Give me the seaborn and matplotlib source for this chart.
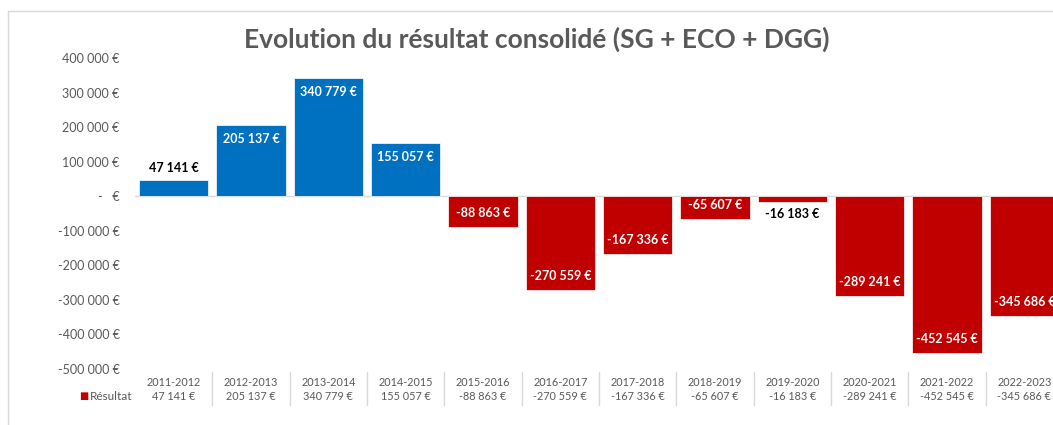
import matplotlib
matplotlib.use("Agg")
import matplotlib.pyplot as plt
import matplotlib.lines as mlines
import seaborn as sns
import pandas as pd

# --- données ---
periodes = ['2011-2012', '2012-2013', '2013-2014', '2014-2015', '2015-2016', '2016-2017',
            '2017-2018', '2018-2019', '2019-2020', '2020-2021', '2021-2022', '2022-2023']
resultats = [47141, 205137, 340779, 155057, -88863, -270559,
             -167336, -65607, -16183, -289241, -452545, -345686]
yticks_val = [400000, 300000, 200000, 100000, 0, -100000, -200000, -300000, -400000, -500000]

BLEU = '#0070C0'
ROUGE = '#C00000'
GRIS = '#595959'


def fmt_euro(v):
    if v == 0:
        return '-   €'
    s = f"{abs(int(v)):,}".replace(',', ' ')
    return ('-' if v < 0 else '') + s + ' €'


df = pd.DataFrame({'periode': periodes, 'resultat': resultats})
df['signe'] = ['pos' if v > 0 else 'neg' for v in resultats]

sns.set_theme(style="white")
plt.rcParams['font.family'] = ['Lato', 'DejaVu Sans']

W, H = 1053, 425
fig = plt.figure(figsize=(W / 100, H / 100), dpi=100)
# zone de tracé (déborde volontairement à droite comme l'original)
ax_left, ax_right, ax_top, ax_bot = 135, 1063, 58, 369
ax = fig.add_axes([ax_left / W, 1 - ax_bot / H, (ax_right - ax_left) / W, (ax_bot - ax_top) / H])

sns.barplot(data=df, x='periode', y='resultat', hue='signe',
            palette={'pos': BLEU, 'neg': ROUGE}, saturation=1, dodge=False, legend=False,
            width=0.9, edgecolor='white', linewidth=0.5, ax=ax)

ax.set_xlim(-0.5, len(periodes) - 0.5)
ax.set_ylim(-500000, 400000)
ax.axhline(0, color='#D9D9D9', lw=1, zorder=0)

ax.set_yticks(yticks_val)
ax.set_yticklabels([fmt_euro(v) for v in yticks_val], color=GRIS, fontsize=9)
ax.tick_params(axis='y', length=0, pad=11)
ax.set_xticks([])
ax.set_xlabel('')
ax.set_ylabel('')
for sp in ax.spines.values():
    sp.set_visible(False)

# étiquettes de données
px_per_unit = (ax_bot - ax_top) / 900000
for i, v in enumerate(resultats):
    txt = fmt_euro(v)
    if abs(v) < 50000:
        off = 12 / px_per_unit
        y = v + off if v > 0 else v - off
        col = 'black'
    else:
        off = 14 / px_per_unit
        y = v - off if v > 0 else v + off
        col = 'white'
    ax.text(i, y, txt, ha='center', va='center', fontsize=9, fontweight='bold', color=col, clip_on=False)

# tableau de données sous le graphique
h_ax = ax_bot - ax_top
for i, (p, v) in enumerate(zip(periodes, resultats)):
    ax.text(i, -(383 - ax_bot) / h_ax, p, transform=ax.get_xaxis_transform(),
            ha='center', va='center', fontsize=7.8, color=GRIS)
    ax.text(i, -(396 - ax_bot) / h_ax, fmt_euro(v), transform=ax.get_xaxis_transform(),
            ha='center', va='center', fontsize=7.8, color=GRIS)
    if i < len(periodes) - 1:
        ax.add_line(mlines.Line2D([i + 0.5, i + 0.5], [-(372 - ax_bot) / h_ax, -(405 - ax_bot) / h_ax],
                                  transform=ax.get_xaxis_transform(), color='#D9D9D9', lw=1, clip_on=False))

# légende intégrée au tableau
fig.text(90 / W, 1 - 396 / H, 'Résultat', ha='left', va='center', fontsize=8.5, color=GRIS)
fig.text(88 / W, 1 - 396 / H, '■', ha='right', va='center', fontsize=7, color=ROUGE,
         family='DejaVu Sans')

# titre
fig.text(537 / W, 1 - 39 / H, 'Evolution du résultat consolidé (SG + ECO + DGG)',
         ha='center', va='center', fontsize=19, fontweight='bold', color=GRIS)

# cadre du graphique
fig.add_artist(mlines.Line2D([8 / W, 8 / W], [0, 1 - 11 / H], transform=fig.transFigure, color='#D9D9D9', lw=1))
fig.add_artist(mlines.Line2D([8 / W, 1], [1 - 11 / H, 1 - 11 / H], transform=fig.transFigure, color='#D9D9D9', lw=1))

fig.savefig('out.png', dpi=100)
